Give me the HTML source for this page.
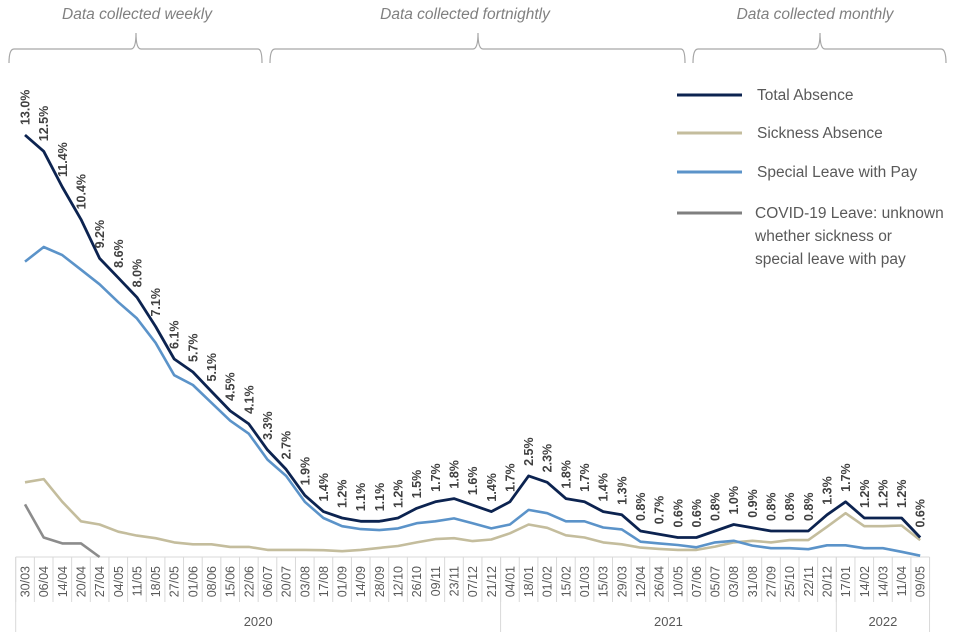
<!DOCTYPE html>
<html><head><meta charset="utf-8"><style>
body{margin:0;background:#fff;}
svg{display:block;font-family:"Liberation Sans",sans-serif;}
</style></head><body>
<svg id="chart" width="960" height="640" viewBox="0 0 960 640" xmlns="http://www.w3.org/2000/svg">
<g fill="none" stroke="#a6a6a6" stroke-width="1.2">
<path d="M9,63 Q9,49 14,49 L131,49 Q136,49 136,33 Q136,49 141,49 L258,49 Q262,49 262,63"/>
<path d="M270,63 Q270,49 275,49 L473,49 Q478,49 478,33 Q478,49 483,49 L681,49 Q685,49 685,63"/>
<path d="M693,63 Q693,49 698,49 L815,49 Q820,49 820,33 Q820,49 825,49 L941,49 Q946,49 946,63"/>
</g>
<g font-style="italic" font-size="15.5" fill="#808080" text-anchor="middle">
<text x="137" y="19">Data collected weekly</text>
<text x="465" y="19">Data collected fortnightly</text>
<text x="815" y="19">Data collected monthly</text>
</g>
<g font-size="15.5" fill="#595959">
<line x1="677" y1="95" x2="742" y2="95" stroke="#0c2350" stroke-width="3"/>
<text x="757" y="100">Total Absence</text>
<line x1="677" y1="133" x2="742" y2="133" stroke="#c4bd9d" stroke-width="3"/>
<text x="757" y="138">Sickness Absence</text>
<line x1="677" y1="172" x2="742" y2="172" stroke="#5b93c9" stroke-width="3"/>
<text x="757" y="177">Special Leave with Pay</text>
<line x1="677" y1="213" x2="742" y2="213" stroke="#7f7f7f" stroke-width="3"/>
<text x="755" y="218">COVID-19 Leave: unknown</text>
<text x="755" y="241">whether sickness or</text>
<text x="755" y="264">special leave with pay</text>
</g>
<g id="axis"></g>
<g id="series"></g>
<g id="labels"></g>
</svg>
<script>
const categories=["30/03","06/04","14/04","20/04","27/04","04/05","11/05","18/05","27/05","01/06","08/06","15/06","22/06","06/07","20/07","03/08","17/08","01/09","14/09","28/09","12/10","26/10","09/11","23/11","07/12","21/12","04/01","18/01","01/02","15/02","01/03","15/03","29/03","12/04","26/04","10/05","07/06","05/07","03/08","31/08","27/09","25/10","22/11","20/12","17/01","14/02","14/03","11/04","09/05"];
const years=["2020","2021","2022"];
const yearCounts=[26,18,5];
const totalAbsence=[13.0,12.5,11.4,10.4,9.2,8.6,8.0,7.1,6.1,5.7,5.1,4.5,4.1,3.3,2.7,1.9,1.4,1.2,1.1,1.1,1.2,1.5,1.7,1.8,1.6,1.4,1.7,2.5,2.3,1.8,1.7,1.4,1.3,0.8,0.7,0.6,0.6,0.8,1.0,0.9,0.8,0.8,0.8,1.3,1.7,1.2,1.2,1.2,0.6];
const totalLabels=["13.0%","12.5%","11.4%","10.4%","9.2%","8.6%","8.0%","7.1%","6.1%","5.7%","5.1%","4.5%","4.1%","3.3%","2.7%","1.9%","1.4%","1.2%","1.1%","1.1%","1.2%","1.5%","1.7%","1.8%","1.6%","1.4%","1.7%","2.5%","2.3%","1.8%","1.7%","1.4%","1.3%","0.8%","0.7%","0.6%","0.6%","0.8%","1.0%","0.9%","0.8%","0.8%","0.8%","1.3%","1.7%","1.2%","1.2%","1.2%","0.6%"];
const sicknessAbsence=[2.3,2.4,1.7,1.1,1.0,0.78,0.66,0.58,0.45,0.39,0.39,0.31,0.31,0.22,0.22,0.22,0.21,0.18,0.22,0.28,0.34,0.45,0.55,0.58,0.49,0.54,0.73,1.0,0.9,0.67,0.6,0.45,0.39,0.29,0.25,0.22,0.22,0.32,0.45,0.5,0.45,0.52,0.52,0.93,1.35,0.95,0.95,0.97,0.52];
const specialLeave=[9.1,9.55,9.3,8.85,8.4,7.85,7.35,6.6,5.6,5.3,4.75,4.2,3.8,3.0,2.5,1.7,1.2,0.95,0.86,0.83,0.88,1.04,1.1,1.19,1.04,0.88,1.0,1.45,1.35,1.1,1.1,0.91,0.85,0.47,0.42,0.37,0.3,0.45,0.5,0.35,0.27,0.27,0.24,0.36,0.36,0.27,0.27,0.16,0.04];
const covidLeave=[1.62,0.6,0.42,0.42,0.0];

const NS="http://www.w3.org/2000/svg";
const left=15.7, band=18.65, base=557, scale=32.46;
const xPos=i=>left+band*(i+0.5);
const yPos=v=>base-v*scale;
function mk(tag,attrs,parent){const e=document.createElementNS(NS,tag);for(const k in attrs)e.setAttribute(k,attrs[k]);parent.appendChild(e);return e;}
const axis=document.getElementById('axis'),series=document.getElementById('series'),labels=document.getElementById('labels');

const axl=mk('line',{x1:left,y1:base,x2:left+band*categories.length,y2:base,stroke:'#d9d9d9','stroke-width':1},axis);


for(let i=0;i<=categories.length;i++){
  const t=mk('line',{x1:left+band*i,y1:base,x2:left+band*i,y2:602,stroke:'#d9d9d9','stroke-width':1},axis);
  
  
}
categories.forEach((c,i)=>{
  const x=xPos(i)+4.5;
  const t=mk('text',{x:x,y:566,transform:`rotate(-90 ${x} 566)`,'text-anchor':'end','font-size':12.5,fill:'#595959'},axis);
  t.textContent=c;
  
  
});
let acc=0;
const sepX=[left];
years.forEach((yr,j)=>{
  const start=acc;acc+=yearCounts[j];
  const x0=left+band*start,x1=left+band*acc;
  sepX.push(x1);
  const t=mk('text',{x:(x0+x1)/2,y:626,'text-anchor':'middle','font-size':13,fill:'#595959'},axis);
  t.textContent=yr;
  
  
});
sepX.forEach(x=>{
  const l=mk('line',{x1:x,y1:base,x2:x,y2:632,stroke:'#d9d9d9','stroke-width':1},axis);
  
  
});

function drawLine(vals,color,w,name){
  const d=vals.map((v,i)=>(i?'L':'M')+xPos(i).toFixed(1)+','+yPos(v).toFixed(1)).join(' ');
  const p=mk('path',{d:d,fill:'none',stroke:color,'stroke-width':w,'stroke-linejoin':'round'},series);
  
  
}
drawLine(covidLeave,'#8c8c8c',2.6,'covid-leave-line');
drawLine(sicknessAbsence,'#c4bd9d',2.6,'sickness-absence-line');
drawLine(specialLeave,'#5b93c9',2.6,'special-leave-line');
drawLine(totalAbsence,'#0c2350',2.8,'total-absence-line');

totalAbsence.forEach((v,i)=>{
  const x=xPos(i)+4.5,y=yPos(v)-10;
  const t=mk('text',{x:x,y:y,transform:`rotate(-90 ${x} ${y})`,'font-size':12.5,'font-weight':'bold',fill:'#404040'},labels);
  t.textContent=totalLabels[i];
  
  
});
</script>
</body></html>
